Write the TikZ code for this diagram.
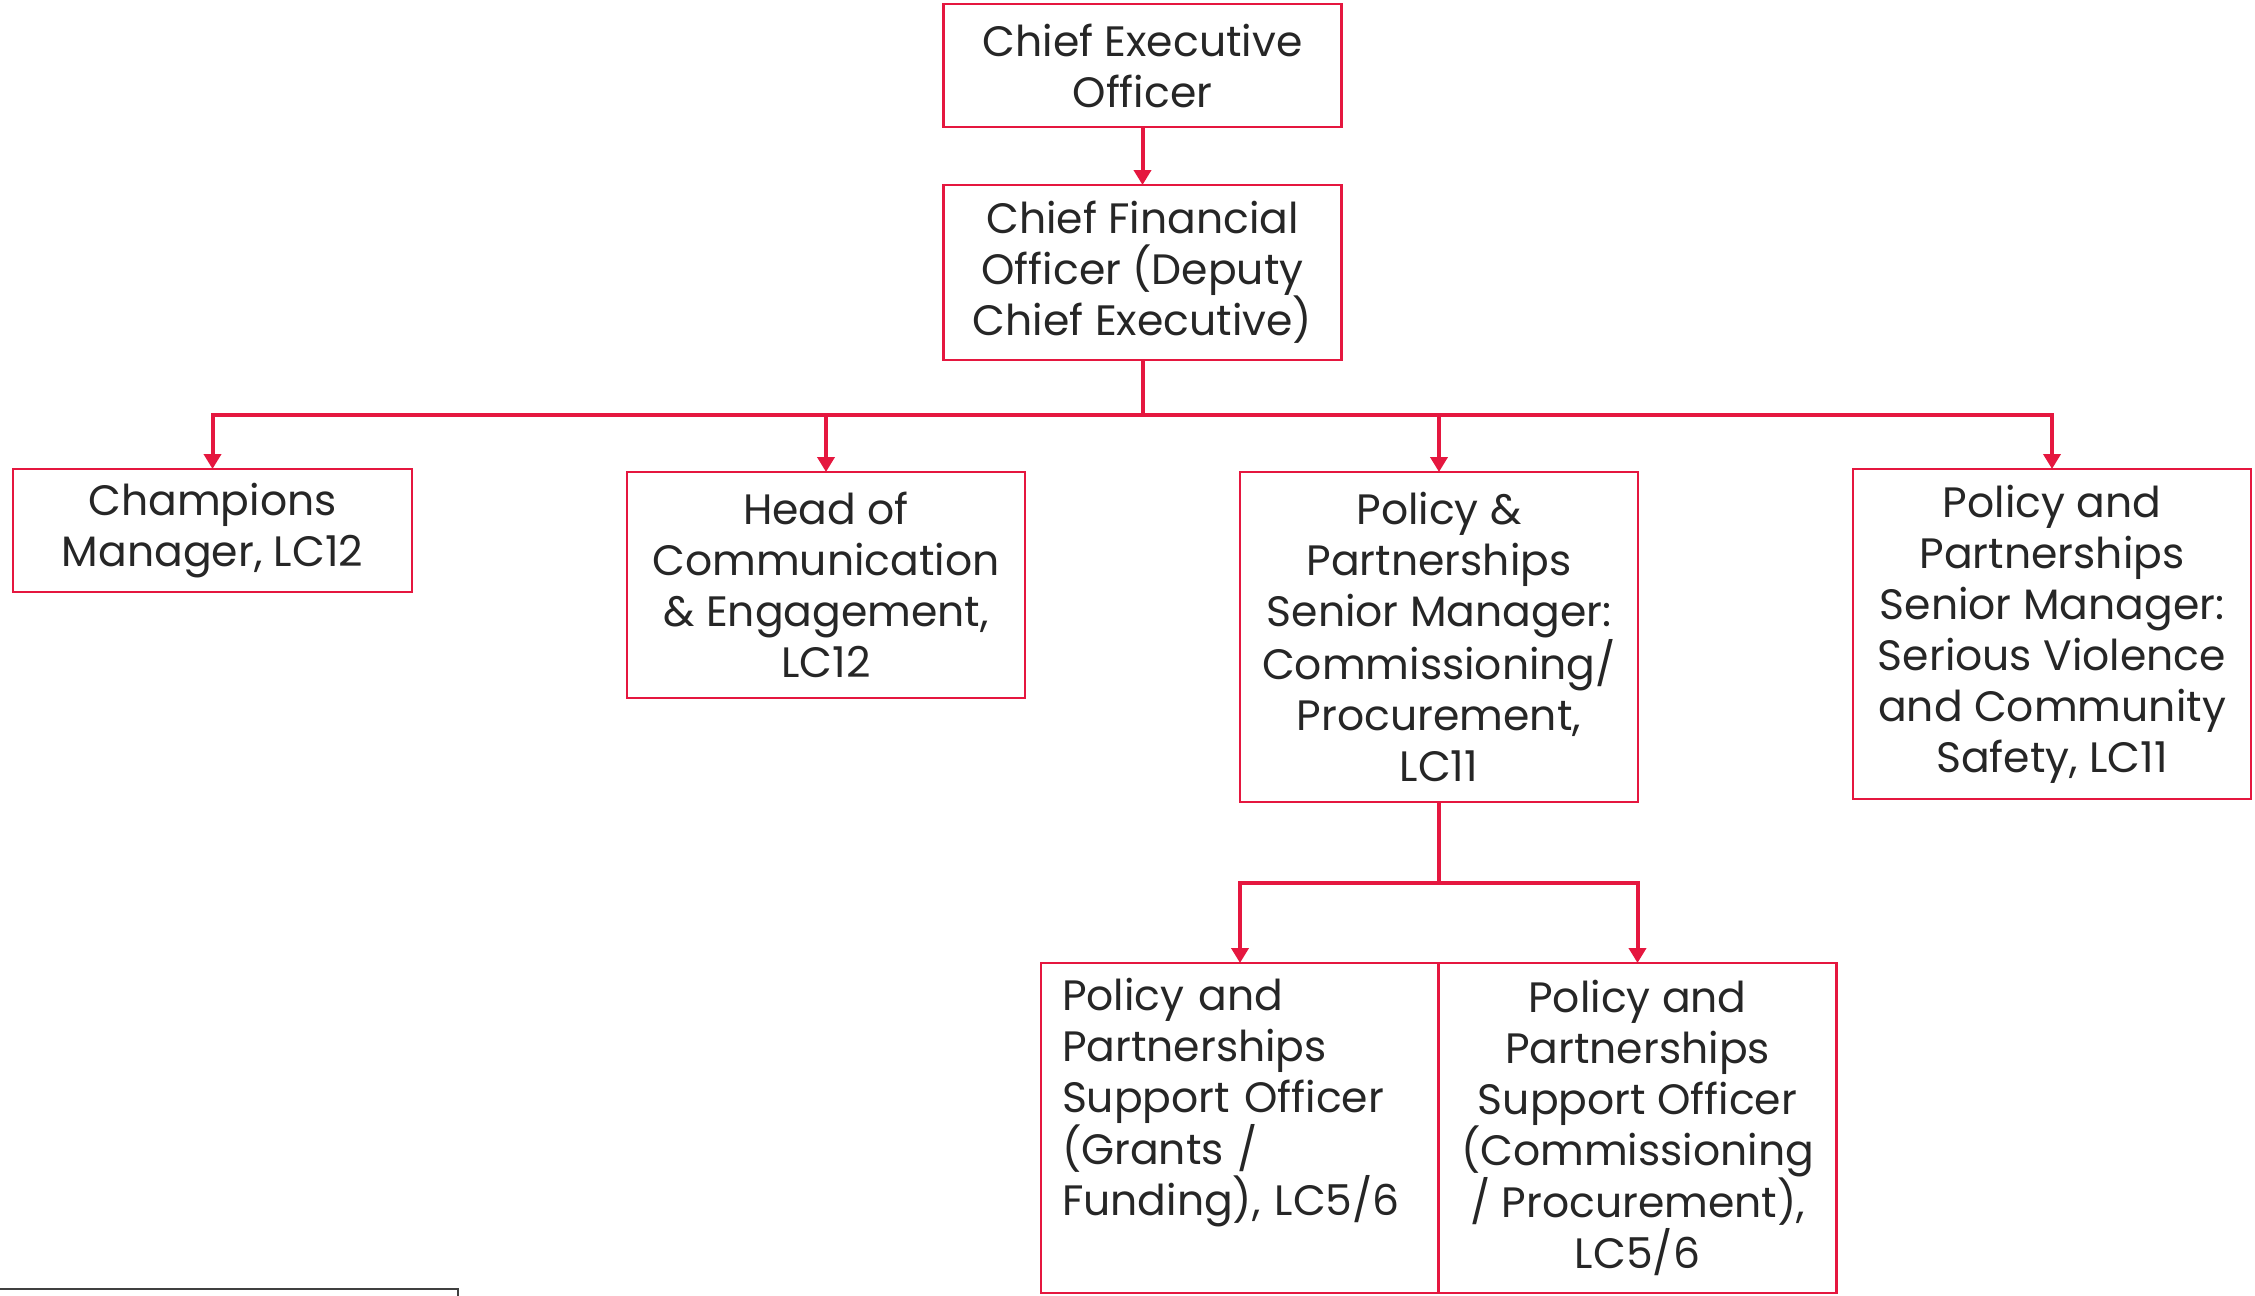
\documentclass[tikz,border=0pt]{standalone}
\usepackage{fontspec}
\setmainfont{Poppins}
\usetikzlibrary{arrows.meta}
\definecolor{cred}{HTML}{E5173F}
\definecolor{ctext}{HTML}{262626}
\definecolor{cgray}{HTML}{404040}
\tikzset{
  box/.style={draw=cred, line width=2.2pt, text=ctext, inner sep=0pt, outer sep=0pt,
    align=center, font=\fontsize{42.5}{51}\selectfont, minimum width=398pt},
  arr/.style={draw=cred, line width=4pt, -{Triangle[length=15pt,width=17pt]}},
  rule/.style={draw=cgray, line width=2pt}
}
\begin{document}
\begin{tikzpicture}[x=1pt,y=-1pt]
\useasboundingbox (0,0) rectangle (2255,1296);
\node[box, minimum height=123pt] (ceo) at (1142.5,65.5) {Chief Executive\\Officer};
\node[box, minimum height=175pt] (cfo) at (1142.5,272.5) {Chief Financial\\Officer (Deputy\\Chief Executive)};
\node[box, minimum height=123pt, minimum width=399pt] (champ) at (212.5,530.5) {Champions\\Manager, LC12};
\node[box, minimum height=226pt] (head) at (826,585) {Head of\\Communication\\\& Engagement,\\LC12};
\node[box, minimum height=330pt] (pol) at (1439,637) {Policy \&\\Partnerships\\Senior Manager:\\Commissioning/\\Procurement,\\LC11};
\node[box, minimum height=330pt] (svc) at (2052,634) {Policy and\\Partnerships\\Senior Manager:\\Serious Violence\\and Community\\Safety, LC11};
\node[box, minimum height=330pt, text width=356pt, align=left] (grants) at (1240,1128) {Policy and\\Partnerships\\Support Officer\\(Grants /\\Funding), LC5/6\\\rule[-12pt]{0pt}{1pt}};
\node[box, minimum height=330pt] (comm) at (1637.5,1128) {Policy and\\Partnerships\\Support Officer\\(Commissioning\\/ Procurement),\\LC5/6};

\coordinate (bus1) at (1142.5,414.5);
\coordinate (bus2) at (1439,883);
\draw[arr] (ceo.south) -- (cfo.north);
\draw[arr] (cfo.south) -- (bus1) -| (champ.north);
\draw[arr] (cfo.south) -- (bus1) -| (head.north);
\draw[arr] (cfo.south) -- (bus1) -| (pol.north);
\draw[arr] (cfo.south) -- (bus1) -| (svc.north);
\draw[arr] (pol.south) -- (bus2) -| (grants.north);
\draw[arr] (pol.south) -- (bus2) -| (comm.north);

\draw[rule] (0,1289) -- (458,1289) -- (458,1297);
\end{tikzpicture}
\end{document}
